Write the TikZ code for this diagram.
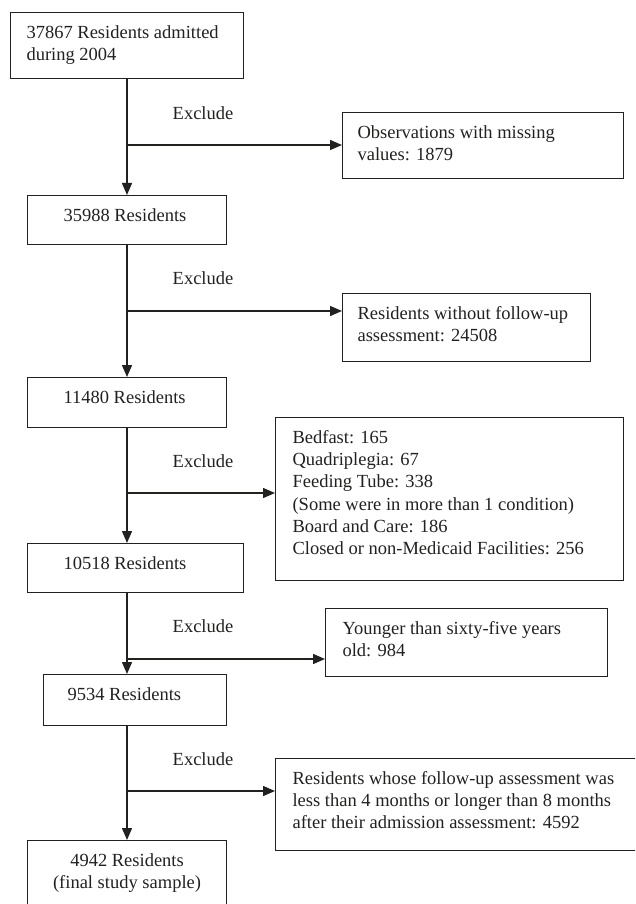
\documentclass[tikz,border=0pt]{standalone}
\usepackage{fontspec}
\setmainfont{Liberation Serif}
\usetikzlibrary{arrows.meta,positioning}
\definecolor{ink}{RGB}{35,32,32}
\tikzset{
  >={Triangle[length=12pt,width=10pt]},
  stage/.style={draw=ink,line width=1.1pt,inner sep=0pt,anchor=north west,
    font=\fontsize{18.5}{22.2}\selectfont,text=ink},
  flow/.style={->,line width=1.4pt,draw=ink},
  tag/.style={font=\fontsize{18.5}{22.2}\selectfont,text=ink,inner sep=0pt},
}
% width, height, left pad, text
\newcommand{\boxtext}[4]{\parbox[t][#2][t]{#1}{\vspace*{10.5pt}\raggedright\leftskip=#3\relax\strut#4}}

\begin{document}
\begin{tikzpicture}[x=1pt,y=-1pt]
    \useasboundingbox (0,0) rectangle (635,904);
    \clip (0,0) rectangle (635,904);
    \coordinate (spine) at (127,0);
    % main stages
    \node[stage] (b1) at (10,12) {\boxtext{233pt}{66pt}{16pt}{37867 Residents admitted\\during 2004}};
    \node[stage] (b2) at (27,195) {\boxtext{199pt}{49pt}{36pt}{35988 Residents}};
    \node[stage] (b3) at (27,377) {\boxtext{199pt}{50pt}{36pt}{11480 Residents}};
    \node[stage] (b4) at (27,543) {\boxtext{216pt}{49pt}{36pt}{10518 Residents}};
    \node[stage] (b5) at (43,674) {\boxtext{183pt}{51pt}{24pt}{9534 Residents}};
    \node[stage] (b6) at (27,840) {\boxtext{199pt}{90pt}{0pt}{\centering 4942 Residents\\(final study sample)}};
    % exclusions
    \node[stage] (e1) at (342,112) {\boxtext{281pt}{66pt}{15pt}{Observations with missing\\values: 1879}};
    \node[stage] (e2) at (342,293) {\boxtext{248pt}{68pt}{15pt}{Residents without follow-up\\assessment: 24508}};
    \node[stage] (e3) at (275,417) {\boxtext{348pt}{163pt}{17pt}{Bedfast: 165\\Quadriplegia: 67\\Feeding Tube: 338\\(Some were in more than 1 condition)\\Board and Care: 186\\Closed or non-Medicaid Facilities: 256}};
    \node[stage] (e4) at (325,608) {\boxtext{282pt}{68pt}{17pt}{Younger than sixty-five years\\old: 984}};
    \node[stage] (e5) at (275,758) {\boxtext{400pt}{92pt}{17pt}{Residents whose follow-up assessment was\\less than 4 months or longer than 8 months\\after their admission assessment: 4592}};
    \foreach \a/\b in {b1/b2,b2/b3,b3/b4,b4/b5,b5/b6}
      \draw[flow] (spine |- \a.south) -- (spine |- \b.north);
    \foreach \j/\y/\e in {1/145/e1,2/311/e2,3/493/e3,4/659/e4,5/791/e5}{
      \coordinate (j\j) at (127,\y);
      \draw[flow] (j\j) -- (j\j -| \e.west);
    }
    \foreach \y [count=\i] in {113,278,461,626,759}
      \node[tag] (x\i) at (203,\y) {Exclude};
  \end{tikzpicture}
\end{document}
